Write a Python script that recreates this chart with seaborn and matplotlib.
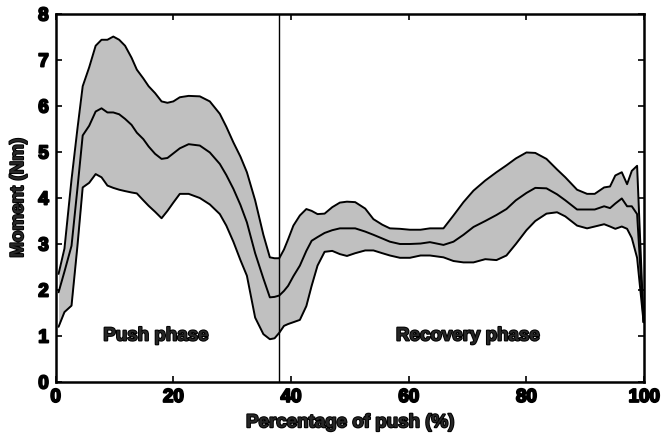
import matplotlib
matplotlib.use("Agg")
import matplotlib.pyplot as plt
import matplotlib.patheffects as pe
import numpy as np
import pandas as pd
import seaborn as sns

# Percentage of the push cycle
pct = [0.5, 1.5, 2.7, 3.7, 4.6, 5.7, 6.8, 7.8, 8.8, 9.8, 10.8, 11.8, 12.9, 13.8,
       14.9, 15.8, 16.9, 18.0, 19.0, 20.0, 21.1, 22.6, 24.5, 26.2, 27.9, 29.0,
       30.2, 31.4, 32.5, 33.9, 35.3, 36.4, 37.2, 38.0, 38.8, 39.5, 40.4, 41.5,
       42.6, 43.5, 44.5, 45.7, 47.0, 48.3, 49.5, 50.9, 52.6, 54.0, 55.5, 56.8,
       58.5, 60.2, 62.0, 63.6, 65.9, 67.6, 69.3, 71.0, 73.0, 74.9, 76.6, 78.2,
       80.0, 81.5, 83.4, 85.2, 86.6, 88.6, 90.3, 91.6, 93.2, 94.2, 95.1, 96.2,
       97.1, 97.9, 98.8, 99.9]

# Lower bound (mean - SD), Nm
moment_low = [1.20, 1.52, 1.66, 2.95, 4.23, 4.33, 4.52, 4.45, 4.27, 4.22, 4.18,
              4.15, 4.12, 4.10, 3.95, 3.83, 3.70, 3.56, 3.72, 3.90, 4.09, 4.09,
              4.00, 3.86, 3.65, 3.40, 3.05, 2.65, 2.31, 1.40, 1.04, 0.93, 0.95,
              1.07, 1.22, 1.26, 1.30, 1.35, 1.65, 2.09, 2.53, 2.83, 2.85, 2.78,
              2.74, 2.80, 2.86, 2.86, 2.80, 2.75, 2.70, 2.70, 2.75, 2.75, 2.71,
              2.63, 2.60, 2.60, 2.67, 2.65, 2.75, 3.00, 3.30, 3.50, 3.66, 3.69,
              3.60, 3.40, 3.34, 3.38, 3.43, 3.38, 3.33, 3.38, 3.33, 3.13, 2.70,
              1.30]

# Mean moment, Nm
moment_mean = [1.95, 2.40, 2.96, 4.20, 5.36, 5.57, 5.88, 5.95, 5.86, 5.86, 5.82,
               5.72, 5.59, 5.42, 5.28, 5.12, 4.96, 4.85, 4.87, 4.97, 5.08, 5.17,
               5.14, 4.99, 4.74, 4.50, 4.20, 3.85, 3.47, 2.80, 2.25, 1.84, 1.85,
               1.88, 1.98, 2.09, 2.30, 2.53, 2.85, 3.07, 3.15, 3.24, 3.30, 3.34,
               3.34, 3.34, 3.27, 3.20, 3.12, 3.05, 3.00, 3.00, 3.01, 3.04, 2.98,
               3.05, 3.20, 3.37, 3.50, 3.63, 3.76, 3.95, 4.11, 4.22, 4.21, 4.08,
               3.95, 3.75, 3.75, 3.75, 3.82, 3.78, 3.88, 3.99, 3.82, 3.82, 3.65,
               1.30]

# Upper bound (mean + SD), Nm
moment_high = [2.35, 2.90, 4.40, 5.50, 6.43, 6.84, 7.31, 7.44, 7.44, 7.51, 7.44,
               7.31, 7.05, 6.79, 6.60, 6.43, 6.28, 6.10, 6.07, 6.10, 6.19, 6.22,
               6.21, 6.10, 5.83, 5.55, 5.21, 4.90, 4.56, 3.95, 3.20, 2.71, 2.69,
               2.69, 2.88, 3.10, 3.40, 3.62, 3.76, 3.72, 3.65, 3.66, 3.80, 3.90,
               3.92, 3.91, 3.77, 3.54, 3.42, 3.34, 3.33, 3.31, 3.31, 3.34, 3.34,
               3.62, 3.91, 4.16, 4.38, 4.56, 4.71, 4.86, 4.99, 4.98, 4.85, 4.62,
               4.45, 4.18, 4.09, 4.09, 4.23, 4.25, 4.49, 4.56, 4.30, 4.59, 4.70,
               1.30]

push_end = 38.0
phase_labels = ["Push phase", "Recovery phase"]
phase_label_x = [17.0, 70.0]
phase_label_y = [1.0, 1.0]

df = pd.DataFrame({"pct": pct, "low": moment_low, "mean": moment_mean,
                   "high": moment_high})

sns.set_style("ticks")
plt.rcParams["font.family"] = ["Liberation Sans", "DejaVu Sans"]
plt.rcParams["font.weight"] = "bold"

fig = plt.figure(figsize=(6.71, 4.39), dpi=100)
ax = fig.add_axes([0.0829, 0.1276, 0.8771, 0.8382])

heavy = [pe.withStroke(linewidth=1.4, foreground="black")]
FS = 13.5

ax.fill_between(df["pct"], df["low"], df["high"], color="#c0c0c0", linewidth=0)
for col in ["high", "mean", "low"]:
    sns.lineplot(data=df, x="pct", y=col, ax=ax, color="black", linewidth=1.4,
                 estimator=None, sort=False)
ax.axvline(push_end, color="black", linewidth=1.0)

for lbl, lx, ly in zip(phase_labels, phase_label_x, phase_label_y):
    ax.text(lx, ly, lbl, ha="center", va="center", fontsize=FS,
            fontweight="bold", path_effects=heavy)

ax.set_xlim(0, 100)
ax.set_ylim(0, 8)
ax.set_xticks([0, 20, 40, 60, 80, 100])
ax.set_yticks(range(0, 9))
ax.tick_params(direction="in", length=4, width=1.2, top=True, right=True,
               labelsize=FS, pad=5, colors="black")
for lab in ax.get_xticklabels() + ax.get_yticklabels():
    lab.set_fontweight("bold")
    lab.set_path_effects(heavy)
for sp in ax.spines.values():
    sp.set_visible(True)
    sp.set_linewidth(1.8)
    sp.set_color("black")

ax.set_xlabel("Percentage of push (%)", fontsize=FS, fontweight="bold",
              labelpad=6, path_effects=heavy)
ax.set_ylabel("Moment (Nm)", fontsize=FS, fontweight="bold", labelpad=8,
              path_effects=heavy)

fig.savefig("out.png", dpi=100)
